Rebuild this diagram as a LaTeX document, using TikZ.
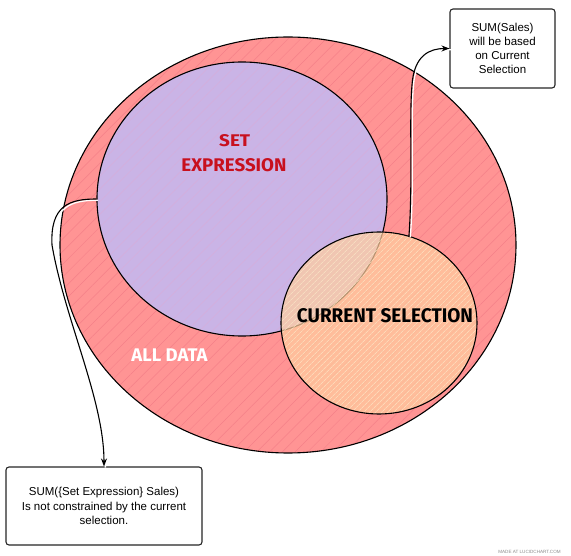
\documentclass[tikz,border=0pt]{standalone}
\usepackage{fontspec}
\usepackage{graphicx}
\usetikzlibrary{shapes.geometric,patterns.meta,arrows.meta}
\newfontfamily\boxfont{Liberation Sans}
\newfontfamily\handfont{Fira Sans}
\definecolor{alldata}{HTML}{FF9494}
\definecolor{alldatahatch}{HTML}{F58089}
\definecolor{setfill}{HTML}{CAB4E6}
\definecolor{sethatch}{HTML}{D6AEDC}
\definecolor{selfill}{HTML}{FFCE9E}
\definecolor{selhatch}{HTML}{FBE0B0}
\definecolor{setred}{HTML}{C8101E}
\tikzset{
  venn/.style={ellipse, draw=black, line width=1.1pt, inner sep=0pt},
  infobox/.style={draw=black!85, line width=1.1pt, rounded corners=3pt, fill=white,
    align=center, inner sep=0pt, font=\boxfont\fontsize{11.5}{14.2}\selectfont},
  conn/.style={draw=black, line width=1.1pt},
  connhalo/.style={draw=white, line width=1.3pt, transform canvas={shift={(1.4pt,-1.2pt)}}},
  tip/.style={-{Stealth[length=8pt,width=6pt]}},
  hand/.style={inner sep=0pt, font=\handfont\bfseries}
}
\begin{document}
\begin{tikzpicture}[x=1pt,y=-1pt]
\useasboundingbox (0,0) rectangle (571,556);
% circles
\node[venn, minimum width=456pt, minimum height=416pt,
  preaction={fill=alldata},
  pattern={Lines[angle=45,distance=9pt,line width=0.5pt]}, pattern color=alldatahatch]
  (all) at (288,245) {};
\node[venn, minimum width=290pt, minimum height=274pt,
  preaction={fill=setfill},
  pattern={Lines[angle=45,distance=9pt,line width=0.5pt]}, pattern color=sethatch]
  (set) at (242,199) {};
\node[venn, minimum width=196pt, minimum height=182pt,
  preaction={fill=selfill, fill opacity=0.72},
  pattern={Lines[angle=45,distance=4pt,line width=0.6pt]}, pattern color=selhatch!70]
  (sel) at (379,323) {};
% boxes
\node[infobox, minimum width=105pt, minimum height=79pt] (box1) at (502.5,48.5)
  {SUM(Sales)\\will be based\\on Current\\Selection};
\node[infobox, minimum width=196pt, minimum height=78pt] (box2) at (104,506)
  {SUM(\{Set Expression\} Sales)\\Is not constrained by the current\\selection.};
% connectors
\def\pathA{(sel.71) .. controls (413,180) and (409,120) .. (412,85) .. controls (414,55) and (430,48.5) .. (box1.west)}
\def\pathB{(set.west) .. controls (70,199) and (50,205) .. (52,245) .. controls (65,320) and (104,400) .. (box2.north)}
\path[connhalo] \pathA;
\path[connhalo] \pathB;
\path[conn, tip] \pathA;
\path[conn, tip] \pathB;
% labels
\node[hand, text=setred] (lset) at (234.7,141) {\resizebox{31pt}{12pt}{SET}};
\node[hand, text=setred] (lexpr) at (234,165.5) {\resizebox{105pt}{13pt}{EXPRESSION}};
\node[hand, text=black] (lsel) at (385,316) {\resizebox{176pt}{14pt}{CURRENT SELECTION}};
\node[hand, text=white] (lall) at (169.5,355) {\resizebox{76pt}{12.7pt}{ALL DATA}};
\node[inner sep=0pt, text=black!45, font=\boxfont\fontsize{4.6}{5}\selectfont] (mark) at (529.5,551.5) {MADE AT LUCIDCHART.COM};
\end{tikzpicture}
\end{document}
